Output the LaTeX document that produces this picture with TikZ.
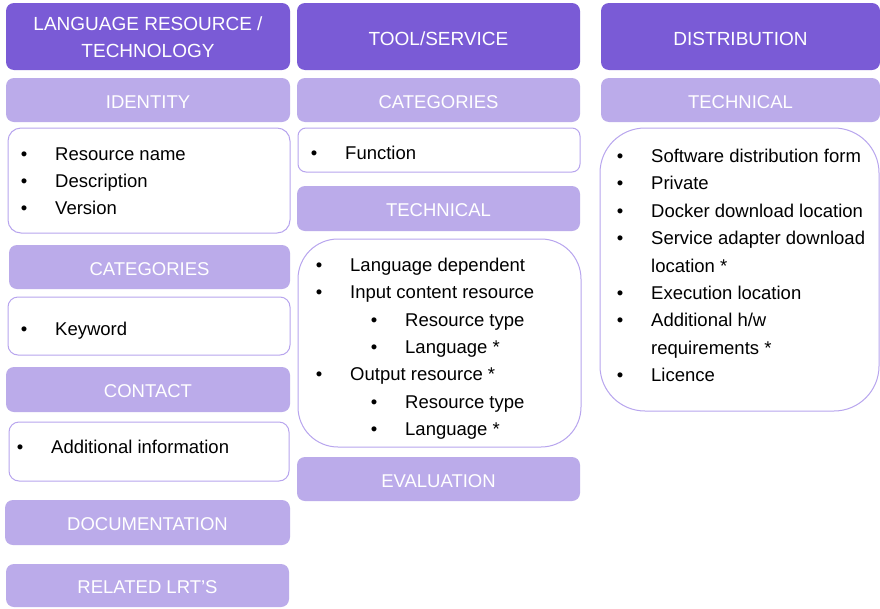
\documentclass[tikz,border=0pt]{standalone}
\usepackage{fontspec}
\setmainfont{Liberation Sans}
\definecolor{headpurple}{HTML}{7A5BD6}
\definecolor{secpurple}{HTML}{BBABEA}
\definecolor{edgepurple}{HTML}{B8A5EE}
\newcommand{\bul}{\llap{•\hspace{27.75pt}}}
\tikzset{
  header/.style={fill=headpurple, rounded corners=8pt, text=white, inner sep=0pt,
    align=center, minimum width=283pt, minimum height=67pt,
    font=\fontsize{19}{27}\selectfont, execute at begin node={\rule{0pt}{17.5pt}}},
  section/.style={fill=secpurple, rounded corners=8pt, text=white, inner sep=0pt,
    minimum width=284pt, minimum height=44pt, font=\fontsize{18.5}{22}\selectfont,
    execute at begin node={\rule{0pt}{17pt}}},
  listbox/.style={draw=edgepurple, line width=1pt, fill=white, inner sep=0pt},
  entry/.style={anchor=base west, inner sep=0pt, font=\fontsize{18.5}{22}\selectfont}
}
\begin{document}
\begin{tikzpicture}[x=1pt, y=-1pt]
        \clip (0,0) rectangle (880,608);
        \fill[white] (0,0) rectangle (880,608);

        % Column 1: language resource / technology
        \node[header, minimum width=284pt] (lrt) at (148,36.5)
          {\raisebox{-2pt}[\height][\depth]{\begin{tabular}{@{}c@{}}LANGUAGE RESOURCE /\\TECHNOLOGY\end{tabular}}};
        \node[section] (identity) at (148,100) {IDENTITY};
        \node[listbox, minimum width=282pt, minimum height=105pt, rounded corners=13pt] (identbox) at (149,180.5) {};
        \node[entry] (ident1) at (55,160.5) {\bul Resource name};
        \node[entry] (ident2) at (55,187.5) {\bul Description};
        \node[entry] (ident3) at (55,214.5) {\bul Version};
        \node[section, minimum width=281pt] (lrtcat) at (149.5,267) {CATEGORIES};
        \node[listbox, minimum width=282pt, minimum height=58pt, rounded corners=10pt] (catbox) at (149,326) {};
        \node[entry] (keyword) at (55,335.5) {\bul Keyword};
        \node[section, minimum height=45pt] (contact) at (148,389.5) {CONTACT};
        \node[listbox, minimum width=280pt, minimum height=59pt, rounded corners=10pt] (contactbox) at (149,451.5) {};
        \node[entry] (addinfo) at (51,453.5) {\bul Additional information};
        \node[section, minimum width=285pt, minimum height=45pt] (docu) at (147.5,522.5) {DOCUMENTATION};
        \node[section, minimum width=283pt, minimum height=43pt] (related) at (147.5,585.5) {RELATED LRT'S};

        % Column 2: tool / service
        \node[header] (tool) at (438.5,36.5) {TOOL/SERVICE};
        \node[section, minimum width=283pt] (toolcat) at (438.5,100) {CATEGORIES};
        \node[listbox, minimum width=282pt, minimum height=44pt, rounded corners=8pt] (funcbox) at (439,150) {};
        \node[entry] (function) at (345,159.5) {\bul Function};
        \node[section, minimum width=283pt, minimum height=45pt] (tooltech) at (438.5,208.5) {TECHNICAL};
        \node[listbox, minimum width=283pt, minimum height=208pt, rounded corners=40pt] (techbox) at (439.5,343) {};
        \node[entry] (tech1) at (350,271.5) {\bul Language dependent};
        \node[entry] (tech2) at (350,298.8) {\bul Input content resource};
        \node[entry] (tech3) at (405,326.1) {\bul Resource type};
        \node[entry] (tech4) at (405,353.4) {\bul Language *};
        \node[entry] (tech5) at (350,380.7) {\bul Output resource *};
        \node[entry] (tech6) at (405,408.0) {\bul Resource type};
        \node[entry] (tech7) at (405,435.3) {\bul Language *};
        \node[section, minimum width=283pt] (evaluation) at (438.5,479) {EVALUATION};

        % Column 3: distribution
        \node[header, minimum width=279pt] (distribution) at (740.5,36.5) {DISTRIBUTION};
        \node[section, minimum width=279pt] (disttech) at (740.5,100) {TECHNICAL};
        \node[listbox, minimum width=279pt, minimum height=283pt, rounded corners=45pt] (distbox) at (739.5,269.5) {};
        \node[entry] (dist1) at (651,162.5) {\bul Software distribution form};
        \node[entry] (dist2) at (651,189.9) {\bul Private};
        \node[entry] (dist3) at (651,217.3) {\bul Docker download location};
        \node[entry] (dist4) at (651,244.7) {\bul Service adapter download};
        \node[entry] (dist4b) at (651,272.1) {location *};
        \node[entry] (dist5) at (651,299.5) {\bul Execution location};
        \node[entry] (dist6) at (651,326.9) {\bul Additional h/w};
        \node[entry] (dist6b) at (651,354.3) {requirements *};
        \node[entry] (dist7) at (651,381.7) {\bul Licence};
\end{tikzpicture}
\end{document}
